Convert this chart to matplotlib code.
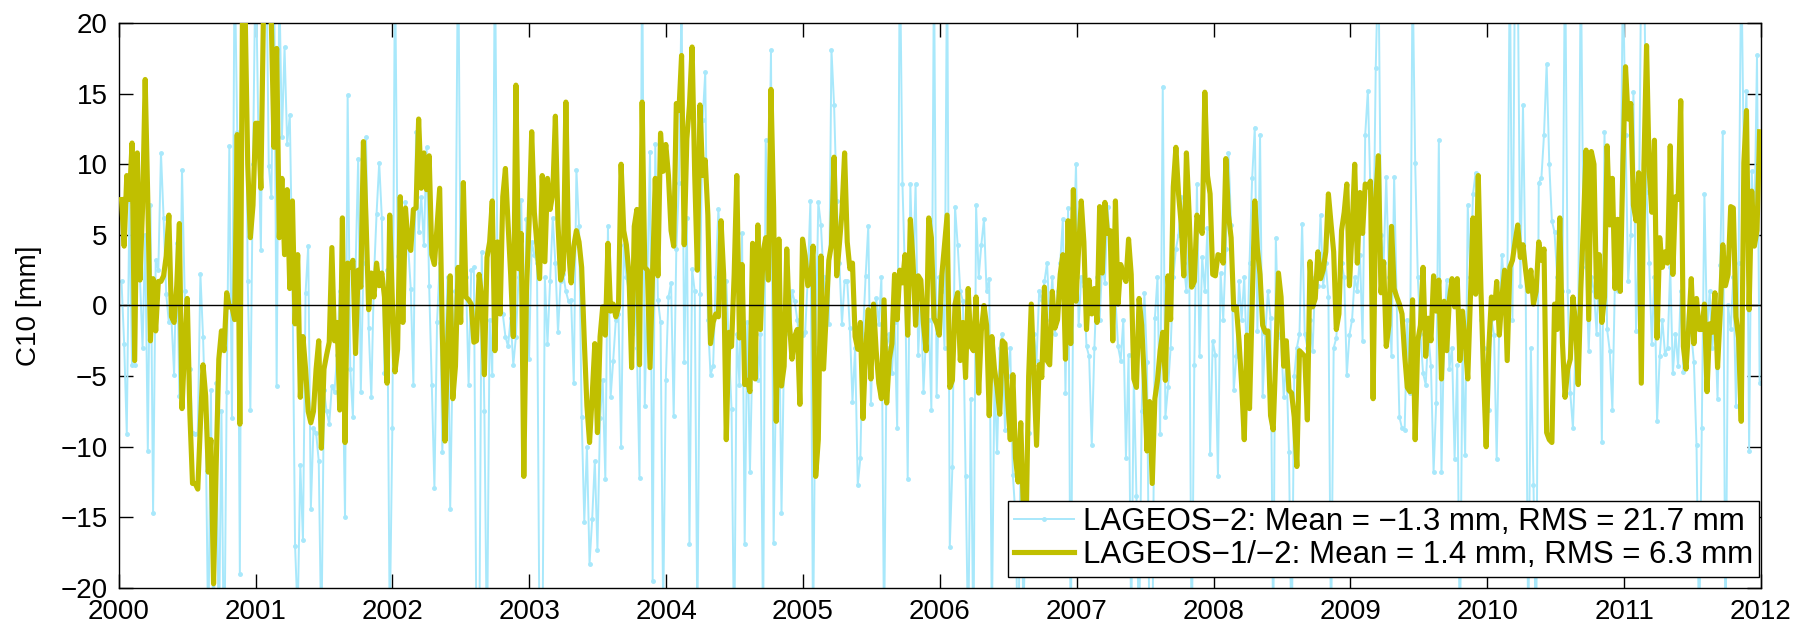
import numpy as np
import matplotlib
matplotlib.use("Agg")
import matplotlib.pyplot as plt

plt.rcParams['font.family'] = ['Liberation Sans', 'DejaVu Sans']

# Weekly C10 geocenter estimates [mm], one list per year.
# Values beyond +-20 mm run off the plotted range.
l12_2000 = [7.5, 4.2, 9.2, 7.5, 11.5, -3.9, 10.8, 1.8, 6.9, 16.0,
            7.4, -2.5, 1.9, -1.8, 1.7, 1.7, 2.1, 3.5, 6.4, -0.8,
            -1.2, 1.4, 5.8, -7.3, -3.0, 0.5, -7.7, -12.6, -12.6, -13.0,
            -8.4, -4.2, -6.4, -11.8, -9.5, -19.7, -11.3, -3.8, -1.8, -3.2,
            0.9, -0.1, -0.1, -1.0, 12.1, -8.4, 21, 21, 10.0, 4.8,
            7.1]
l12_2001 = [12.9, 12.9, 8.3, 21, 21, 21, 19.9, 11.2, 18.2, 4.8,
            9.0, 3.6, 8.2, 1.2, 7.4, -1.3, 3.6, -6.5, -2.2, -4.5,
            -7.5, -8.3, -7.5, -4.5, -2.5, -10.1, -4.5, -3.5, -2.6, 4.1,
            -2.5, -1.2, -7.4, 6.2, -9.7, 3.0, 2.7, 3.2, -3.4, 2.5,
            1.3, 11.6, 6.0, -0.3, 2.3, 0.6, 3.0, 1.4, 2.3, 0.6,
            -5.5, 6.4]
l12_2002 = [0.4, -4.7, -3.1, 7.7, -1.2, 6.9, 4.3, 3.9, 6.8, 6.9,
            13.2, 8.3, 10.8, 8.2, 10.6, 3.6, 2.9, 5.6, 8.3, -1.9,
            -9.6, -3.0, 2.1, -6.6, -4.3, 2.7, -1.2, 8.7, 0.6, 0.4,
            0.1, -2.6, -2.5, 2.2, 0.6, -4.9, 3.4, 4.5, 7.4, -3.2,
            4.5, -0.6, 7.7, 9.7, 5.8, 2.2, -2.2, 15.6, 2.6, 5.1,
            -12.1]
l12_2003 = [1.0, 5.8, 12.3, 6.6, 4.3, 1.9, 9.2, 3.1, 9.0, 6.8,
            7.9, 13.4, 5.8, 1.8, 2.5, 14.4, 4.0, 1.6, 4.2, 5.3,
            4.5, 2.7, -2.5, -7.1, -9.7, -6.4, -2.7, -9.0, -2.2, -0.1,
            -2.1, 4.4, -0.4, 0.1, -0.8, -0.1, 10.0, 5.3, 4.3, 2.2,
            -4.4, 5.6, 6.8, -4.2, 14.4, 2.7, 2.5, -4.4, 2.5, 9.0,
            2.1]
l12_2004 = [12.2, 9.5, 11.4, 9.2, 5.3, 4.2, 14.3, 13.8, 17.7, 4.3,
            11.8, 14.2, 18.3, 9.2, 2.5, 14.2, 9.2, 10.3, 6.4, -2.7,
            -1.2, -0.6, -0.8, 6.0, 2.2, -9.5, -1.9, -2.9, 2.2, 9.2,
            -2.3, 2.9, -5.6, -5.3, -6.1, 4.4, -5.2, 5.7, -1.7, 3.8,
            4.8, 1.8, 15.3, 6.9, -8.2, 4.7, -5.7, -4.3, 4.0, -1.2,
            -3.8, -2.2, -1.7, -7.0]
l12_2005 = [4.7, 3.5, 1.4, 1.6, 4.2, -12.1, -9.5, 3.5, -4.5, -0.6,
            3.2, 4.3, 10.5, 2.1, 4.3, 6.6, 10.8, 4.5, 2.6, 3.0,
            -2.2, -3.1, -1.2, -8.0, -3.2, -0.3, -5.2, 0.1, -3.2, -5.5,
            -6.6, 0.4, -6.9, -3.8, -2.7, 2.2, -1.0, 2.5, 1.6, 3.6,
            -2.1, 6.1, 3.2, -1.4, 2.1, 1.8, -1.3, -3.2, 6.2, 4.8,
            -0.9]
l12_2006 = [-1.3, -2.1, 2.2, 4.3, 6.4, -5.8, -5.3, 0.1, 0.9, -3.9,
            -1.2, -5.1, 1.2, -2.9, -3.2, 0.6, -6.2, -1.8, 0.0, -1.4,
            -7.8, -2.2, -4.5, -5.8, -7.7, -2.5, -2.7, -6.6, -9.5, -4.9,
            -10.8, -12.5, -8.3, -14.5, -16.0, -5.0, 0.1, -5.0, -9.9, -4.2,
            -5.1, 1.3, -3.9, -4.2, 1.0, -1.6, -1.0, 2.2, 3.6, -3.8,
            6.0, -2.7]
l12_2007 = [8.2, 0.3, 4.0, 7.4, 4.5, -1.7, 1.8, -0.6, 1.2, -1.2,
            7.0, 2.3, 7.3, 5.1, 5.3, -2.5, 7.4, 0.1, 2.9, 2.2,
            1.7, 4.7, 2.2, -5.2, -5.8, 0.5, -1.4, -5.3, -10.3, -6.8,
            -12.6, -6.6, -5.3, -3.2, -1.9, -5.3, 2.1, -1.0, 8.4, 11.2,
            7.9, 5.8, 2.1, 10.8, 6.6, 1.3, 1.7, 6.4, 5.7, 5.1,
            15.1, 9.2]
l12_2008 = [7.9, 2.2, 2.1, 3.6, 3.5, 3.0, 10.4, 6.4, 4.8, -0.3,
            -0.1, -2.5, -5.6, -9.5, -2.1, -7.3, -0.1, 7.4, 4.0, 2.2,
            -1.4, -1.9, -1.8, -7.8, -8.8, -3.5, 2.3, 0.6, -4.3, -2.5,
            -6.0, -6.2, -7.9, -11.4, -3.2, -3.4, -3.6, -8.1, 3.1, -0.1,
            0.5, 3.8, 1.9, 2.5, 3.8, 7.9, 5.8, 3.8, -1.7, -0.6,
            5.3, 6.6, 8.6]
l12_2009 = [1.4, 5.3, 10.0, 3.0, 8.0, 5.1, 8.6, 8.4, 8.8, -6.6,
            7.5, 10.6, 0.9, 3.1, -2.9, -1.4, 5.6, 1.2, 0.6, 0.1,
            -0.6, -3.5, -5.8, -6.1, 0.4, -9.5, -2.5, -1.4, 2.7, -3.6,
            -0.9, -2.5, 2.1, -0.4, 1.8, -5.2, 0.3, -3.2, 0.4, 1.9,
            -0.1, 1.9, -3.9, -0.4, -2.5, -5.2, 0.6, 6.2, 0.8, 9.2,
            1.2, -4.9]
l12_2010 = [-10.0, -3.0, 0.6, -0.9, 1.7, -2.1, 0.6, 2.5, -3.9, 2.7,
            3.2, 4.5, 5.7, 3.4, 4.3, 2.5, 1.0, 2.5, 0.1, 1.0,
            4.5, 3.2, 4.0, -9.0, -9.5, -9.7, 0.1, -1.7, 6.2, -2.6,
            -6.5, -4.5, -3.8, 0.6, -1.3, -5.6, 1.2, 5.8, 11.0, -1.0,
            10.9, 10.0, 0.6, 3.6, -1.2, 0.6, 11.3, 5.7, 9.0, 1.2,
            6.1, 1.0]
l12_2011 = [10.0, 16.9, 13.2, 14.3, 7.1, 6.0, 9.4, -5.5, 10.0, 18.4,
            9.5, 6.6, 11.7, -2.3, 4.8, 2.7, 3.8, 3.0, 11.3, 2.2,
            7.7, 7.5, 14.5, -2.9, -4.5, -1.6, 1.9, -2.7, 0.5, -1.7,
            -1.7, 0.1, -6.1, -1.3, -1.9, 0.9, -4.4, -0.6, 4.3, 1.4,
            2.2, 7.0, 6.9, -0.8, -2.3, -8.2, 10.1, 13.8, -0.3, 8.1,
            4.2, 5.3, 12.3]

l2_2000 = [1.7, -2.7, -9.1, 7.4, -4.2, -4.2, 7.0, 2.0, -3.0, 5.0,
           -10.3, 7.1, -14.7, 3.2, 2.5, 10.8, 6.2, 0.8, -1.2, -1.0,
           -4.9, 4.4, -6.4, 9.6, 1.0, -3.0, -4.5, -9.0, -9.1, -9.0,
           2.2, -2.2, -8.6, -24, -6.0, -26, -5.5, -25, -7.5, -27,
           -6.1, 11.3, -8.0, 25, 12.3, -19.0, 24, 26, 1.7, -7.4,
           10.0]
l2_2001 = [25, 12.7, 3.9, 24, 26, 9.9, 7.7, 25, -5.7, 23,
           11.9, 18.3, 11.4, 13.5, 2.0, -17.0, -22, -11.3, -16.6, 0.9,
           4.2, -14.4, -8.7, -9.0, -11.0, -24, -6.0, -7.5, -8.4, -5.7,
           -6.1, -3.5, 1.0, -3.0, -15.0, 14.9, -4.5, -7.9, 2.5, 10.4,
           -6.1, 3.0, 11.9, -1.6, -6.5, 2.0, 6.5, 10.1, 6.2, -4.8,
           2.5, -23]
l2_2002 = [-8.7, 25, 3.5, 1.0, 6.0, 7.3, 4.2, 1.2, -5.6, 12.3,
           5.2, 7.7, 4.3, 11.2, 1.4, -5.6, -12.9, -1.2, 3.0, -10.4,
           -4.0, 2.0, -14.4, -3.0, 1.0, 27, 0.5, 1.5, 2.0, -5.6,
           2.5, 2.7, -24, -26, 3.8, -7.5, -25, -1.0, -4.9, 26,
           1.4, 0.5, -0.6, -2.2, -2.9, -0.9, -4.2, -2.2, 2.0, 7.5,
           -2.7]
l2_2003 = [6.1, -3.8, 4.5, 3.6, 3.0, -25, -27, 2.0, -2.7, 1.7,
           6.2, 3.0, -1.9, 1.7, 2.2, 1.0, 0.3, 0.4, -5.5, 9.6,
           5.6, -7.9, -15.3, -10.0, -18.3, -15.1, -11.0, -17.3, -8.0, -5.3,
           -12.3, 5.6, -6.5, -3.9, -1.0, -0.6, -10.0, 4.3, 2.0, 1.0,
           -2.0, 3.0, -3.0, -12.2, 26, -7.1, 2.0, 10.9, -19.5, 11.4,
           0.4]
l2_2004 = [-1.2, -22, -5.3, 0.6, 1.6, -7.8, 4.0, 8.7, 22, -4.0,
           6.2, -16.9, 2.6, 1.0, -23, 0.8, 13.1, 16.5, -1.0, -4.9,
           -4.3, 2.0, 6.8, 3.0, -0.5, 1.7, -3.0, -7.3, -25, -2.0,
           -5.6, 5.1, -16.9, -1.2, -11.8, -3.0, 1.0, -5.3, -2.0, -24,
           11.7, 4.0, 18.1, -16.8, -4.0, 1.0, -14.7, -3.0, 0.0, -2.0,
           1.0, 0.3, -1.0, -3.0]
l2_2005 = [-2.1, -1.9, 2.0, 7.4, -24, -3.0, 7.3, 5.7, 2.0, 0.5,
           -1.3, 18.1, 14.2, 7.4, 3.0, -1.3, 1.7, 1.7, -1.6, -6.8,
           -3.0, -12.7, -10.8, -2.0, 2.1, 5.6, -7.0, -1.0, 0.5, -1.3,
           2.0, -24, -3.0, -2.0, -4.8, -1.2, -8.7, 26, 8.6, 2.0,
           -12.3, 8.6, 2.0, 8.6, -3.5, 1.0, -6.1, -2.0, -1.0, -7.4,
           25]
l2_2006 = [-6.4, 2.0, 1.0, -3.0, 26, -17.1, -11.4, 7.0, 4.3, 1.0,
           0.3, -12.1, -24, -6.6, -25, 7.1, 2.0, 4.3, 6.1, 1.0,
           1.9, -23, -5.0, -10.4, -3.0, -2.0, -8.8, -5.0, -3.0, -12.0,
           -15.0, -25, -10.0, -22, -14.0, -9.0, -4.0, -2.0, -3.9, 1.0,
           0.4, 1.7, 3.0, -1.0, 2.0, -2.0, 1.0, 3.0, 6.1, -6.2,
           6.9, -25]
l2_2007 = [3.0, 10.0, -1.4, 2.0, 1.4, -2.9, -3.6, -9.9, -3.0, 2.0,
           -1.0, 3.0, 1.6, 7.0, 4.0, 2.0, 0.5, -2.9, -3.9, -1.0,
           -10.8, -3.5, -23, -5.0, -13.5, -24, -7.5, 0.9, -4.0, -25,
           -26, -0.9, 2.0, -9.1, 15.5, -7.9, -5.8, -3.0, 2.0, 4.0,
           5.0, 7.7, 3.0, 1.0, 5.0, -25, -4.2, 8.6, -3.6, 3.4,
           1.0, 5.5]
l2_2008 = [-10.5, -2.5, -3.5, -12.1, 2.3, -1.0, 4.0, 10.8, 5.7, -6.0,
           -3.6, 1.7, -1.0, 2.0, -4.0, 3.0, 9.0, 12.6, -1.8, 12.1,
           -6.4, -2.0, 1.0, -0.9, -24, 4.8, -2.0, -2.3, -6.5, -4.0,
           -10.4, -25, -5.0, -3.0, -2.0, 5.8, -2.0, -3.0, -1.0, -3.2,
           2.0, 1.4, 6.4, 1.4, 3.0, 0.6, -24, -3.0, -2.3, 1.0,
           3.0, 2.0, -4.9]
l2_2009 = [-2.1, -1.0, 2.0, 1.0, 3.6, -2.5, 12.1, 15.2, 8.0, 2.0,
           16.8, 25, 5.0, 3.0, 9.1, 2.0, -3.6, 9.1, 0.0, -7.9,
           -8.7, -8.8, -1.0, -6.2, 24, 10.1, 2.0, -2.0, -4.8, -5.6,
           -2.0, -4.3, -11.8, -6.9, 11.7, -11.8, -2.0, 1.8, -4.5, -3.0,
           -10.9, -4.2, -25, -3.0, -10.6, 7.1, 2.0, 7.9, 9.4, 3.0,
           -1.0, -3.0]
l2_2010 = [-5.0, -7.4, -1.0, -2.1, -10.9, -1.0, 3.6, 1.0, 0.0, 25,
           -1.0, 26, 24, 1.4, 14.2, 2.0, -24, -3.0, -12.7, -25,
           8.7, 9.0, 12.1, 17.1, 10.0, 6.0, 5.2, 2.0, 5.3, 1.0,
           26, 1.0, -6.2, -8.7, -3.0, -1.0, 25, 4.0, 2.7, -3.2,
           2.0, 1.0, -2.0, 3.0, -9.7, 12.3, -1.7, -3.2, -7.4, 2.0,
           1.0, 3.0]
l2_2011 = [24, 12.1, 1.7, 5.0, 15.1, -1.8, 4.0, 25, 26, 8.0,
           3.0, -2.7, 2.0, -8.2, -3.6, -1.0, -3.4, -3.0, 2.7, -4.8,
           -2.0, -4.3, 1.0, -4.7, -2.0, 0.0, -2.0, -4.0, -9.9, -24,
           -8.7, 7.9, -2.0, 1.0, -3.0, -1.0, -6.6, 2.9, 12.3, -25,
           0.0, -1.7, 2.0, -7.1, 3.0, 25, 10.0, 15.2, -10.3, 9.5,
           5.0, 17.7, -5.5]

year_ticks = list(range(2000, 2013))
c10_ticks = [-20, -15, -10, -5, 0, 5, 10, 15, 20]

label_l2 = "LAGEOS\u22122: Mean = \u22121.3 mm, RMS = 21.7 mm"
label_l12 = "LAGEOS\u22121/\u22122: Mean = 1.4 mm, RMS = 6.3 mm"

lageos2 = np.concatenate([l2_2000, l2_2001, l2_2002, l2_2003, l2_2004, l2_2005,
                          l2_2006, l2_2007, l2_2008, l2_2009, l2_2010, l2_2011])
lageos12 = np.concatenate([l12_2000, l12_2001, l12_2002, l12_2003, l12_2004, l12_2005,
                           l12_2006, l12_2007, l12_2008, l12_2009, l12_2010, l12_2011])

# weekly solutions, first epoch early Jan 2000, last one end of 2011
t2 = np.linspace(2000.02, 2011.99, len(lageos2))
t12 = np.linspace(2000.02, 2011.99, len(lageos12))

fig = plt.figure(figsize=(18.08, 6.3), dpi=100)
ax = fig.add_axes([0.0657, 0.0667, 0.9083, 0.8968])

ax.plot(t2, lageos2, color='#a8e8fb', lw=1.4, marker='.', markersize=5,
        label=label_l2, zorder=2)
ax.plot(t12, lageos12, color='#c0bf00', lw=3.7, label=label_l12, zorder=3)
ax.axhline(0, color='black', lw=1.0, zorder=4)

ax.set_xlim(2000, 2012)
ax.set_ylim(-20, 20)
ax.set_xticks(year_ticks)
ax.set_yticks(c10_ticks)
ax.tick_params(direction='in', length=10, width=1, top=True, right=True,
               labelsize=20, pad=8)
for s in ax.spines.values():
    s.set_linewidth(1.0)
ax.set_ylabel('C10 [mm]', fontsize=20, labelpad=13)

leg = ax.legend(loc='lower right', bbox_to_anchor=(0.999, 0.02), fontsize=22.5,
                numpoints=1, fancybox=False, framealpha=1, edgecolor='black',
                borderaxespad=0.0, handlelength=1.9, handletextpad=0.3,
                labelspacing=0.1, borderpad=0.2)
leg.get_frame().set_linewidth(1.0)
leg.set_zorder(10)

fig.savefig('out.png', dpi=100)
